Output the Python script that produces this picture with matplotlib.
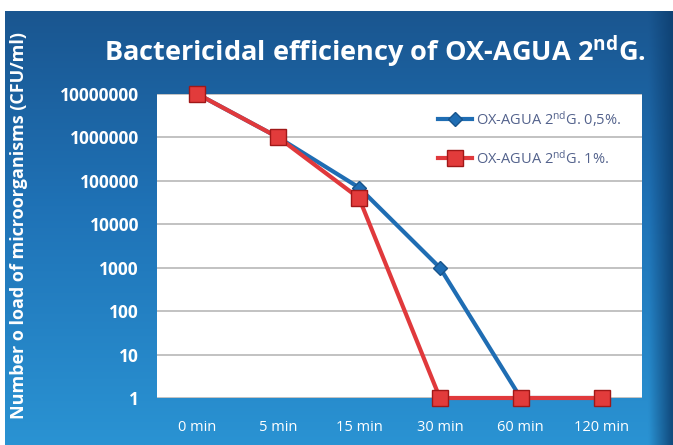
import numpy as np
import matplotlib
matplotlib.use("Agg")
import matplotlib.pyplot as plt
from matplotlib.colors import to_rgb

# data
times = ["0 min", "5 min", "15 min", "30 min", "60 min", "120 min"]
load_05 = [10000000, 1000000, 70000, 1000, 1, 1]
load_1 = [10000000, 1000000, 40000, 1, 1, 1]
yticks = [1, 10, 100, 1000, 10000, 100000, 1000000, 10000000]

plt.rcParams['font.family'] = ['Open Sans', 'DejaVu Sans']
plt.rcParams['mathtext.default'] = 'regular'

fig = plt.figure(figsize=(6.73, 4.45), dpi=100)
fig.patch.set_facecolor('white')

# blue gradient background panel
bg = fig.add_axes([5 / 673, 0, 1 - 5 / 673, 1 - 11 / 445])
bg.set_axis_off()
top = np.array(to_rgb('#1a5690'))
mid = np.array(to_rgb('#1f72b6'))
bot = np.array(to_rgb('#2a93d3'))
t = np.linspace(0, 1, 200)[:, None]
col = np.where(t < 0.45, top + (mid - top) * (t / 0.45), mid + (bot - mid) * ((t - 0.45) / 0.55))
img = np.repeat(col[:, None, :], 300, axis=1)
xs = np.linspace(0, 1, 300)
dark = np.clip((xs - 0.965) / 0.035, 0, 1)[None, :, None]
edge_col = np.array(to_rgb('#0d3f70'))
img = img * (1 - 0.85 * dark) + edge_col * 0.85 * dark
bg.imshow(img, aspect='auto', extent=[0, 1, 0, 1], interpolation='bilinear')
bg.set_xlim(0, 1)
bg.set_ylim(0, 1)

ax = fig.add_axes([157 / 673, 1 - 398 / 445, (642 - 157) / 673, (398 - 94) / 445])
ax.set_facecolor('white')
x = np.arange(len(times))
ax.plot(x, load_05, color='#1f6db3', lw=3, marker='D', ms=7,
        mfc='#1f6db3', mec='#17548c', label='OX-AGUA 2$^{nd}$G. 0,5%.', zorder=3)
ax.plot(x, load_1, color='#e0393c', lw=3, marker='s', ms=12,
        mfc='#e23b3b', mec='#a01818', mew=1, label='OX-AGUA 2$^{nd}$G. 1%.',
        zorder=4, clip_on=False)

ax.set_yscale('log')
ax.set_ylim(1, 10000000)
ax.set_xlim(-0.5, 5.5)
ax.set_yticks(yticks)
ax.set_yticklabels([str(v) for v in yticks])
ax.minorticks_off()
ax.set_xticks(x)
ax.set_xticklabels(times)
ax.grid(axis='y', color='#b8b8b8', lw=1.2)
ax.set_axisbelow(True)
for s in ax.spines.values():
    s.set_visible(False)
ax.tick_params(length=0, colors='white', labelsize=12.5)
for lab in ax.get_yticklabels():
    lab.set_fontweight('bold')
ax.tick_params(axis='y', pad=13)
ax.tick_params(axis='x', pad=16, labelsize=10.5)

leg = ax.legend(loc='upper right', frameon=False, fontsize=10.5, labelspacing=1.45,
                bbox_to_anchor=(0.985, 0.995), handlelength=2.3, handletextpad=0.3)
for txt in leg.get_texts():
    txt.set_color('#53628c')

fig.text(0.557, 0.883, 'Bactericidal efficiency of OX-AGUA 2$^{nd}$G.', color='white',
         fontsize=19.5, fontweight='bold', ha='center', va='center')
fig.text(0.028, 0.494, 'Number o load of microorganisms (CFU/ml)', color='white',
         fontsize=13, fontweight='bold', rotation=90, ha='center', va='center')

fig.savefig('out.png', dpi=100)
